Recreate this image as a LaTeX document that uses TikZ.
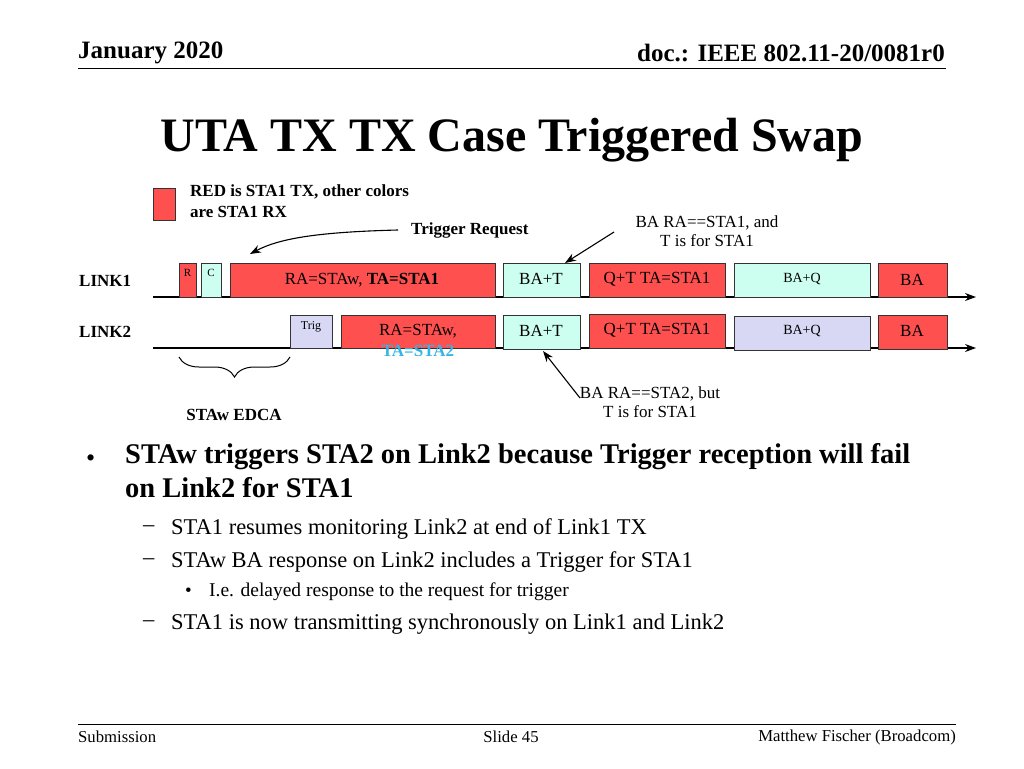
\documentclass[tikz,border=0pt]{standalone}
\usepackage{fontspec}
\setmainfont{Liberation Serif}
\usetikzlibrary{arrows.meta,decorations.pathreplacing}
\definecolor{txred}{HTML}{FF5050}
\definecolor{rxcyan}{HTML}{CCFFF0}
\definecolor{rxlav}{HTML}{D8D8F4}
\definecolor{tablue}{HTML}{33B5E5}
\begin{document}
\begin{tikzpicture}[x=1pt,y=-1pt,
  fr/.style={draw=black!80,line width=0.9pt,inner sep=0pt,anchor=north west},
  red/.style={fr,fill=txred},
  cy/.style={fr,fill=rxcyan},
  lav/.style={fr,fill=rxlav},
  lbl/.style={font=\fontsize{17}{19}\selectfont},
  arr/.style={-{Stealth[length=11pt,width=8pt]},line width=1.1pt}]
\useasboundingbox (0,0) rectangle (1024,768);
\node[anchor=west,font=\bfseries\fontsize{25}{27}\selectfont,inner sep=0pt] (jan) at (78,53) {January 2020};
\node[anchor=east,font=\bfseries\fontsize{25}{27}\selectfont,inner sep=0pt] (doc) at (945,53) {doc.: IEEE 802.11-20/0081r0};
\draw[line width=0.8pt] (78,68) -- (946,68);
\node[font=\bfseries\fontsize{48}{52}\selectfont] (title) at (512,140) {UTA TX TX Case Triggered Swap};
% legend
\node[red,minimum width=22,minimum height=32] (leg) at (153,188) {};
\node[anchor=north west,align=left,font=\bfseries\fontsize{17}{21}\selectfont,inner sep=0pt] (legt) at (190,185) {RED is STA1 TX, other colors\\are STA1 RX};
\node[anchor=west,font=\bfseries\fontsize{17}{19}\selectfont,inner sep=0pt] (trq) at (411,230) {Trigger Request};
\coordinate (trqs) at (398,230);
\coordinate (trqe) at (250,254);
\draw[arr] (trqs) .. controls (320,232) and (280,238) .. (trqe);
\node[lbl,align=center,inner sep=0pt] (ba1t) at (707,231) {BA RA==STA1, and\\T is for STA1};
\coordinate (a1s) at (614,232);
\coordinate (a1e) at (565,263);
% lines
\node[anchor=west,font=\bfseries\fontsize{17}{19}\selectfont,inner sep=0pt] (l1) at (79,281) {LINK1};
\node[anchor=west,font=\bfseries\fontsize{17}{19}\selectfont,inner sep=0pt] (l2) at (79,332) {LINK2};
\coordinate (l1s) at (153,297); \coordinate (l1e) at (976,297);
\coordinate (l2s) at (153,348); \coordinate (l2e) at (976,348);
\draw[arr] (l1s) -- (l1e);
\draw[arr] (l2s) -- (l2e);
% link1 boxes
\node[red,minimum width=17,minimum height=34] (r) at (179,263) {};
\node[font=\fontsize{11}{13}\selectfont] at (187.5,273) {R};
\node[cy,minimum width=20,minimum height=34] (c) at (201,263) {};
\node[font=\fontsize{11}{13}\selectfont] at (211,273) {C};
\node[red,minimum width=265,minimum height=34] (big1) at (230,263) {};
\node[lbl] at (362,280) {RA=STAw, \textbf{TA=STA1}};
\node[cy,minimum width=77,minimum height=34] (bat1) at (503,263) {};
\node[lbl] at (541,279) {BA+T};
\node[red,minimum width=136,minimum height=34] (qt1) at (589,263) {};
\node[lbl] at (657,279) {Q+T TA=STA1};
\node[cy,minimum width=136,minimum height=34] (baq1) at (734,263) {};
\node[font=\fontsize{14}{16}\selectfont] at (802,279) {BA+Q};
\node[red,minimum width=69,minimum height=34] (ba1) at (878,263) {};
\node[lbl] at (912,280) {BA};
% link2 boxes
\node[lav,minimum width=42,minimum height=33] (trig) at (290,315) {};
\node[font=\fontsize{12}{14}\selectfont] at (311,327) {Trig};
\node[red,minimum width=154,minimum height=33] (big2) at (341,315) {};
\node[lbl] at (418,331) {RA=STAw,};
\node[font=\bfseries\fontsize{17}{19}\selectfont,text=tablue] at (418,351) {TA=STA2};
\node[cy,minimum width=77,minimum height=34] (bat2) at (503,315) {};
\node[lbl] at (541,331) {BA+T};
\node[red,minimum width=136,minimum height=34] (qt2) at (589,314) {};
\node[lbl] at (657,330) {Q+T TA=STA1};
\node[lav,minimum width=136,minimum height=34] (baq2) at (734,316) {};
\node[font=\fontsize{14}{16}\selectfont] at (802,331) {BA+Q};
\node[red,minimum width=69,minimum height=34] (ba2) at (878,315) {};
\node[lbl] at (912,331) {BA};
\draw[arr] (a1s) -- (a1e);
\node[lbl,align=center,inner sep=0pt] (ba2t) at (650,402) {BA RA==STA2, but\\T is for STA1};
\coordinate (a2s) at (580,398);
\coordinate (a2e) at (543,351);
\draw[arr] (a2s) -- (a2e);
% brace
\draw[line width=1pt,decorate,decoration={brace,amplitude=20pt,mirror}] (179,357) -- (290,357);
\node[font=\bfseries\fontsize{17}{19}\selectfont] (edca) at (234,415) {STAw EDCA};
% bullets
\node[anchor=west,font=\fontsize{26}{28}\selectfont,inner sep=0pt] at (86,461) {•};
\node[anchor=north west,align=left,inner sep=0pt,font=\bfseries\fontsize{28.5}{34}\selectfont] (b1) at (125,443) {STAw triggers STA2 on Link2 because Trigger reception will fail\\on Link2 for STA1};
\node[anchor=west,font=\fontsize{22.5}{24}\selectfont,inner sep=0pt] at (143,529) {–};
\node[anchor=west,font=\fontsize{22.5}{24}\selectfont,inner sep=0pt] (s1) at (171,529) {STA1 resumes monitoring Link2 at end of Link1 TX};
\node[anchor=west,font=\fontsize{22.5}{24}\selectfont,inner sep=0pt] at (143,562) {–};
\node[anchor=west,font=\fontsize{22.5}{24}\selectfont,inner sep=0pt] (s2) at (171,562) {STAw BA response on Link2 includes a Trigger for STA1};
\node[anchor=west,font=\fontsize{19}{21}\selectfont,inner sep=0pt] at (185,592) {•};
\node[anchor=west,font=\fontsize{19.5}{21}\selectfont,inner sep=0pt] (s3) at (209,592) {I.e. delayed response to the request for trigger};
\node[anchor=west,font=\fontsize{22.5}{24}\selectfont,inner sep=0pt] at (143,624) {–};
\node[anchor=west,font=\fontsize{22.5}{24}\selectfont,inner sep=0pt] (s4) at (171,624) {STA1 is now transmitting synchronously on Link1 and Link2};
% footer
\draw[line width=0.8pt] (78,724) -- (956,724);
\node[anchor=west,font=\fontsize{16.7}{18}\selectfont,inner sep=0pt] (sub) at (78,737) {Submission};
\node[font=\fontsize{16.7}{18}\selectfont,inner sep=0pt] (sl) at (511,737) {Slide 45};
\node[anchor=east,font=\fontsize{16.7}{18}\selectfont,inner sep=0pt] (mf) at (956,737) {Matthew Fischer (Broadcom)};
\end{tikzpicture}
\end{document}
